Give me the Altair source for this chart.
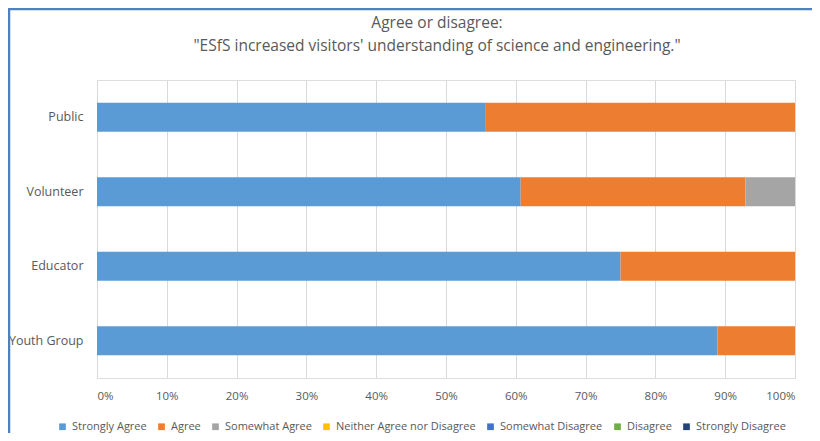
import altair as alt
import pandas as pd

groups = ["Public", "Volunteer", "Educator", "Youth Group"]
responses = ["Strongly Agree", "Agree", "Somewhat Agree", "Neither Agree nor Disagree",
             "Somewhat Disagree", "Disagree", "Strongly Disagree"]
colors = ["#5B9BD5", "#ED7D31", "#A5A5A5", "#FFC000", "#4472C4", "#70AD47", "#264478"]

strongly_agree = [0.556, 0.607, 0.750, 0.889]
agree = [0.444, 0.322, 0.250, 0.111]
somewhat_agree = [0.0, 0.071, 0.0, 0.0]
neither = [0.0, 0.0, 0.0, 0.0]
somewhat_disagree = [0.0, 0.0, 0.0, 0.0]
disagree = [0.0, 0.0, 0.0, 0.0]
strongly_disagree = [0.0, 0.0, 0.0, 0.0]

x_ticks = [0, 0.1, 0.2, 0.3, 0.4, 0.5, 0.6, 0.7, 0.8, 0.9, 1.0]

series = [strongly_agree, agree, somewhat_agree, neither,
          somewhat_disagree, disagree, strongly_disagree]
rows = []
for ri, (resp, vals) in enumerate(zip(responses, series)):
    for g, v in zip(groups, vals):
        rows.append({"group": g, "response": resp, "value": v, "idx": ri})
df = pd.DataFrame(rows)

FONT = "Open Sans"
GREY = "#595959"

bars = alt.Chart(df).mark_bar().encode(
    y=alt.Y("group:N", sort=groups, title=None,
            scale=alt.Scale(paddingInner=0.61, paddingOuter=0.305),
            axis=alt.Axis(domain=False, ticks=False, labelPadding=14,
                          labelFontSize=12.5, labelColor=GREY, labelFont=FONT)),
    x=alt.X("value:Q", stack="zero", title=None,
            scale=alt.Scale(domain=[0, 1]),
            axis=alt.Axis(format=".0%", values=x_ticks, grid=True, gridColor="#D9D9D9",
                          domain=False, ticks=False, labelPadding=12,
                          labelFontSize=11.5, labelColor=GREY, labelFont=FONT)),
    color=alt.Color("response:N", scale=alt.Scale(domain=responses, range=colors),
                    legend=alt.Legend(title=None, orient="none", direction="horizontal",
                                      legendX=-40, legendY=341, columns=7,
                                      symbolType="square", symbolSize=45,
                                      symbolStrokeWidth=0, labelFontSize=11,
                                      labelColor=GREY, labelFont=FONT,
                                      columnPadding=9, symbolOffset=0, labelOffset=4)),
    order=alt.Order("idx:Q"),
)

frame_df = pd.DataFrame({"a": [0]})
top_line = alt.Chart(frame_df).mark_rule(color="#4F81BD", strokeWidth=2.5).encode(
    x=alt.value(-89), x2=alt.value(715), y=alt.value(-71))
left_line = alt.Chart(frame_df).mark_rule(color="#4F81BD", strokeWidth=2.5).encode(
    x=alt.value(-88), y=alt.value(-71), y2=alt.value(353))

chart = alt.layer(bars, top_line, left_line).properties(
    width=698, height=298,
    autosize=alt.AutoSizeParams(type="none"),
    padding={"left": 89, "top": 72, "right": 17, "bottom": 55},
    title=alt.TitleParams(
        text=["Agree or disagree:",
              "\"ESfS increased visitors' understanding of science and engineering.\""],
        anchor="middle", frame="group", dx=-9, offset=-47, fontSize=15.5,
        fontWeight="normal", color=GREY, font=FONT, lineHeight=23),
).configure_view(stroke=None).configure(background="white")

chart.save("out.html", embed_options={"renderer": "svg", "actions": False})
